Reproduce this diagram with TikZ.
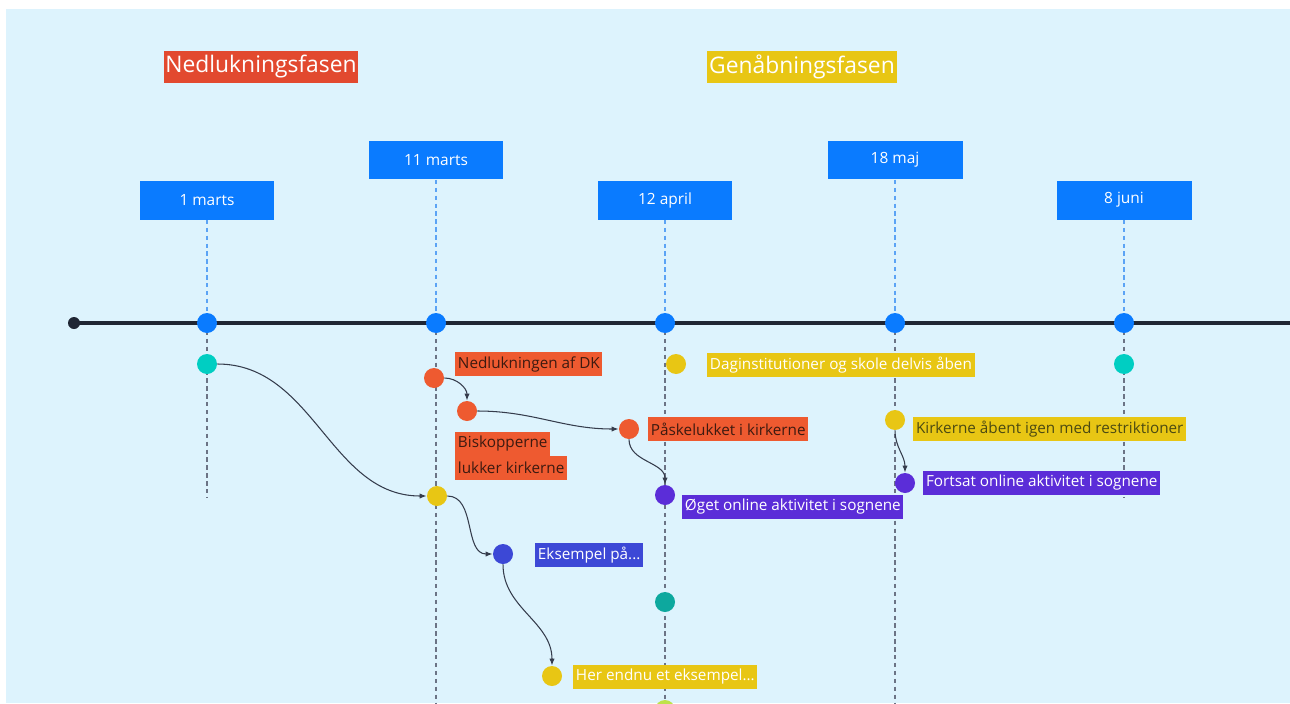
\documentclass[tikz,border=0pt]{standalone}
\usepackage{fontspec}
\setmainfont{Open Sans}
\usepackage{tikz}
\usetikzlibrary{arrows.meta, positioning, backgrounds}
\definecolor{bgblue}{HTML}{DDF3FD}
\definecolor{dateblue}{HTML}{0A7BFF}
\definecolor{phasered}{HTML}{E2492F}
\definecolor{evorange}{HTML}{EE5A30}
\definecolor{evyellow}{HTML}{E8C614}
\definecolor{evpurple}{HTML}{5B2DD8}
\definecolor{evindigo}{HTML}{3C48D6}
\definecolor{evteal}{HTML}{00CEC2}
\definecolor{evdteal}{HTML}{0DA89E}
\definecolor{evlime}{HTML}{BEE24A}
\definecolor{axisdark}{HTML}{1F2634}
\definecolor{lineblue}{HTML}{5BA3F5}
\definecolor{linegray}{HTML}{6B7385}
\definecolor{connline}{HTML}{353C4C}
\definecolor{darktxt}{HTML}{3D1A10}
\definecolor{olivetxt}{HTML}{4B4A12}

\begin{document}
\begin{tikzpicture}[x=0.02cm, y=-0.02cm,
    datebox/.style={fill=dateblue, text=white, minimum width=2.7cm, minimum height=0.78cm, inner sep=0pt, font=\fontsize{8.8}{10}\selectfont},
    phase/.style={text=white, minimum height=0.66cm, inner xsep=1pt, inner ysep=0pt, font=\fontsize{13}{15}\selectfont},
    lbl/.style={anchor=west, minimum height=0.47cm, inner xsep=1.5pt, inner ysep=0pt, font=\fontsize{8.7}{10}\selectfont},
    axisdot/.style={circle, fill=dateblue, minimum size=0.4cm, inner sep=0pt},
    evdot/.style={circle, minimum size=0.4cm, inner sep=0pt},
    conn/.style={draw=connline, line width=0.6pt, -{Latex[length=4pt, width=3pt]}},
    topline/.style={draw=lineblue, line width=1pt, dash pattern=on 2.5pt off 2pt},
    botline/.style={draw=linegray, line width=1pt, dash pattern=on 2.5pt off 2pt}]
  \useasboundingbox (0,0) rectangle (1290,703);

  % phases
  \node[phase, fill=phasered] (ned) at (261,67) {Nedlukningsfasen};
  \node[phase, fill=evyellow] (gen) at (802,67) {Genåbningsfasen};

  % dates
  \node[datebox] (d1) at (207,200) {1 marts};
  \node[datebox] (d2) at (436,160) {11 marts};
  \node[datebox] (d3) at (665,200) {12 april};
  \node[datebox] (d4) at (895,160) {18 maj};
  \node[datebox] (d5) at (1124,200) {8 juni};

  % axis
  \node[circle, fill=axisdark, minimum size=0.24cm, inner sep=0pt] (start) at (74,323) {};
  \coordinate (end) at (1290,323);
  \foreach \x/\n in {207/a1, 436/a2, 665/a3, 895/a4, 1124/a5}
    \node[axisdot] (\n) at (\x,323) {};

  % events
  \node[evdot, fill=evteal] (teal1) at (207,364) {};
  \node[evdot, fill=evorange] (or1) at (434,378) {};
  \node[evdot, fill=evorange] (or2) at (467,411) {};
  \node[evdot, fill=evorange] (or3) at (629,429) {};
  \node[evdot, fill=evyellow] (ye1) at (676,364) {};
  \node[evdot, fill=evyellow] (ye2) at (437,496) {};
  \node[evdot, fill=evpurple] (pu1) at (665,495) {};
  \node[evdot, fill=evindigo] (in1) at (503,554) {};
  \node[evdot, fill=evdteal] (teal2) at (665,602) {};
  \node[evdot, fill=evyellow] (ye3) at (552,676) {};
  \node[evdot, fill=evlime] (lime1) at (665,710) {};
  \node[evdot, fill=evyellow] (ye4) at (895,420) {};
  \node[evdot, fill=evpurple] (pu2) at (905,483) {};
  \node[evdot, fill=evteal] (teal3) at (1124,364) {};

  % labels
  \node[lbl, fill=evorange, text=darktxt] (nedl) at (455,364) {Nedlukningen af DK};
  \node[lbl, fill=evorange, text=darktxt] (bisk1) at (455,444) {Biskopperne};
  \node[lbl, fill=evorange, text=darktxt, below right=0pt and 0pt of bisk1.south west] (bisk2) {lukker kirkerne};
  \node[lbl, fill=evorange, text=darktxt] (pask) at (648,429) {Påskelukket i kirkerne};
  \node[lbl, fill=evyellow, text=white] (dagi) at (707,365) {Daginstitutioner og skole delvis åben};
  \node[lbl, fill=evyellow, text=olivetxt] (kirk) at (913,429) {Kirkerne åbent igen med restriktioner};
  \node[lbl, fill=evpurple, text=white] (fort) at (923,483) {Fortsat online aktivitet i sognene};
  \node[lbl, fill=evpurple, text=white] (oget) at (682,507) {Øget online aktivitet i sognene};
  \node[lbl, fill=evindigo, text=white] (eks) at (535,555) {Eksempel på...};
  \node[lbl, fill=evyellow, text=white] (her) at (573,677) {Her endnu et eksempel...};

  % connectors
  \draw[conn] (teal1.east) to[out=0, in=180] (ye2.west);
  \draw[conn] (or1.east) to[out=0, in=90] (or2.north);
  \draw[conn] (or2.east) to[out=0, in=180] (or3.west);
  \draw[conn] (or3.south) to[out=-90, in=90] (pu1.north);
  \draw[conn] (ye2.east) to[out=0, in=180] (in1.west);
  \draw[conn] (in1.south) to[out=-90, in=90] (ye3.north);
  \draw[conn] (ye4.south) to[out=-90, in=90] (pu2.north);

  \begin{scope}[on background layer]
    \fill[white] (0,0) rectangle (1290,703);
    \fill[bgblue] (6,9) rectangle (1290,703);
    \foreach \d/\n in {d1/a1, d2/a2, d3/a3, d4/a4, d5/a5}
      \draw[topline] (\d.south) -- (\n.center);
    \draw[botline] (a1.center) -- (207,497);
    \draw[botline] (a5.center) -- (1124,497);
    \foreach \x/\n in {436/a2, 665/a3, 895/a4}
      \draw[botline] (\n.center) -- (\x,703);
    \draw[axisdark, line width=1.8pt] (start.center) -- (end);
  \end{scope}
\end{tikzpicture}
\end{document}
